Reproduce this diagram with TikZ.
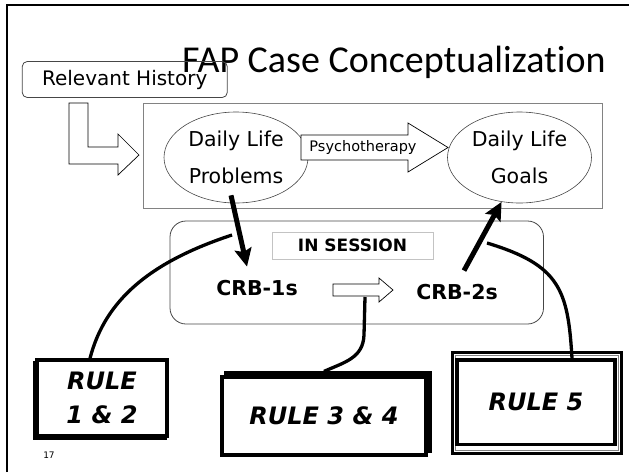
\documentclass[tikz,border=0pt]{standalone}
\usepackage{fontspec}
\setmainfont{DejaVu Sans}
\newfontfamily\titlefont[Ligatures=NoCommon]{Carlito}
\usetikzlibrary{arrows.meta,shapes.geometric}
\definecolor{grisclaro}{RGB}{195,195,195}
\definecolor{grismedio}{RGB}{130,130,130}
\definecolor{grisoscuro}{RGB}{70,70,70}
\newcommand{\rulefont}{\fontsize{24}{34}\selectfont\bfseries\itshape}
\tikzset{>=Stealth,
	caja/.style={draw=grisoscuro, line width=0.8pt, rounded corners=5pt, minimum width=205pt, minimum height=36pt, font=\fontsize{20}{24}\selectfont},
	nube/.style={ellipse, draw=grisoscuro, line width=0.6pt, minimum width=144pt, minimum height=91pt, inner sep=0pt, align=center, font=\fontsize{20.5}{37}\selectfont},
	hueca/.style={draw=black, line width=0.7pt, fill=white},
	gruesa/.style={line width=5pt, -{Stealth[length=18pt,width=17pt,inset=3pt]}},
	cuerda/.style={line width=3.3pt},
	regla/.style={draw, line width=3.2pt, fill=white, align=center, font=\rulefont},
	crb/.style={font=\fontsize{20.5}{24}\selectfont\bfseries, inner sep=3pt}}

\begin{document}
\begin{tikzpicture}[x=1pt,y=-1pt]
		\useasboundingbox (0,0) rectangle (629,472);
		\draw[line width=2pt] (7,472) -- (7,5) -- (629,5);
		
		\node[anchor=base west, inner sep=0pt, font=\titlefont\fontsize{38}{40}\selectfont] (titulo) at (182,72) {FAP Case Conceptualization};
		\node[caja] (hist) at (124.75,79.5) {Relevant History};
		\draw[hueca] (69,103) -- (88,103) -- (88,147) -- (118,147) -- (118,134) -- (139,155) -- (118,175) -- (118,164) -- (69,164) -- cycle;
		
		\node[draw=grismedio, line width=0.8pt, minimum width=459pt, minimum height=105pt] (mundo) at (372.5,155.5) {};
		\node[nube] (prob) at (236,157.5) {Daily Life\\Problems};
		\node[nube] (goal) at (519.5,157.5) {Daily Life\\Goals};
		\draw[hueca] (301,135) -- (408,135) -- (408,123) -- (448,147.5) -- (408,172) -- (408,160) -- (301,160) -- cycle;
		\node[font=\fontsize{14.5}{16}\selectfont] (psy) at (363,147.5) {Psychotherapy};
		
		\node[draw=grisoscuro, line width=0.8pt, rounded corners=16pt, minimum width=373.5pt, minimum height=103pt] (sesion) at (356.75,272.5) {};
		\node[draw=grisclaro, line width=0.8pt, minimum width=161pt, minimum height=27pt, font=\fontsize{17}{20}\selectfont\bfseries] (etiqueta) at (352.5,245.5) {IN SESSION};
		\node[crb, anchor=base] (crb1) at (257,295) {CRB-1s};
		\node[crb, anchor=base] (crb2) at (457,299) {CRB-2s};
		\draw[hueca] (333,284) -- (379,284) -- (379,278) -- (393,290) -- (379,302) -- (379,296) -- (333,296) -- cycle;
		\coordinate (pie) at (365,297);
		\coordinate (c1) at (232,235);
		\coordinate (c3) at (487,243);
		
		\draw[gruesa] ([xshift=-5pt,yshift=8pt]prob.south) -- ([xshift=-10pt,yshift=10pt]crb1.north);
		\draw[gruesa] ([xshift=7pt,yshift=10pt]crb2.north) -- (goal.248);
		
		% reglas
		\draw[line width=3.2pt] (35,362.5) rectangle (165,438.5);
		\node[regla, minimum width=130pt, minimum height=76pt] (regla12) at (102,398) {RULE\\1 \& 2};
		\draw[line width=3.2pt] (226,373) rectangle (430,451);
		\node[regla, minimum width=204pt, minimum height=78pt] (regla34) at (324,416) {RULE 3 \& 4};
		\draw[line width=3pt] (452,352.5) rectangle (621.5,453);
		\draw[grismedio, line width=0.8pt] (455,355.5) rectangle (618.5,450);
		\node[regla, minimum width=158pt, minimum height=84.5pt] (regla5) at (536,402.25) {RULE 5};
		
		\draw[cuerda] (c1) .. controls (150,262) and (105,300) .. ([xshift=-12pt]regla12.north);
		\draw[cuerda] (pie) -- (364,335) .. controls (363,358) and (345,362) .. ([yshift=4pt]regla34.north);
		\draw[cuerda] (c3) .. controls (560,265) and (568,290) .. ([xshift=36pt]regla5.north);
		
		\node[font=\fontsize{9}{10}\selectfont] (pagina) at (49,455) {17};
		
	\end{tikzpicture}
\end{document}
